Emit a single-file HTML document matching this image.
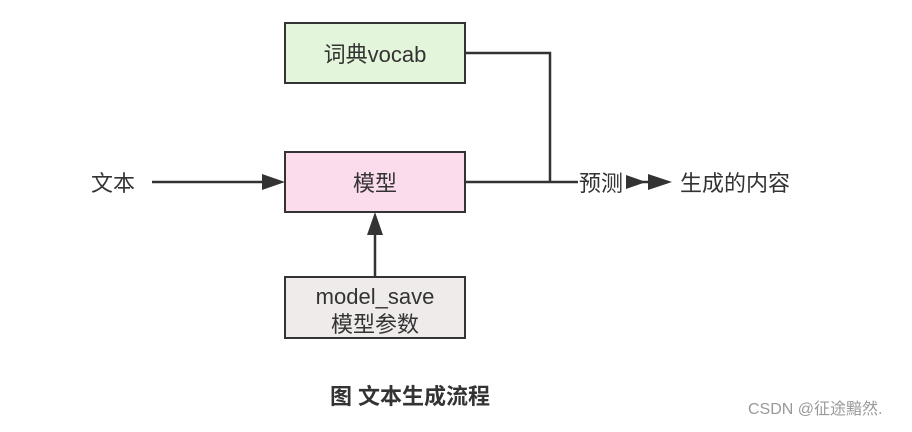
<!DOCTYPE html>
<html><head><meta charset="utf-8"><style>
body{margin:0;width:912px;height:427px;background:#fff;overflow:hidden}
svg text{font-family:"Liberation Sans","Noto Sans CJK SC",sans-serif;fill:#333}
</style></head><body>
<svg width="912" height="427" xmlns="http://www.w3.org/2000/svg">
<rect x="285" y="23" width="180" height="60" fill="#e3f5da" stroke="#333" stroke-width="2"/>
<text x="375" y="62" font-size="22" text-anchor="middle">词典vocab</text>
<rect x="285" y="152" width="180" height="60" fill="#fadcec" stroke="#333" stroke-width="2"/>
<text x="375" y="191" font-size="22" text-anchor="middle">模型</text>
<rect x="285" y="277" width="180" height="61" fill="#efebea" stroke="#333" stroke-width="2"/>
<text x="375" y="304" font-size="22" text-anchor="middle">model_save</text>
<text x="375" y="332" font-size="22" text-anchor="middle">模型参数</text>
<text x="113" y="191" font-size="22" text-anchor="middle">文本</text>
<line x1="152" y1="182" x2="266" y2="182" stroke="#333" stroke-width="2.5"/>
<polygon points="262,174 285,182 262,190" fill="#333"/>
<polyline points="466,53 550,53 550,182" fill="none" stroke="#333" stroke-width="2.5"/>
<line x1="466" y1="182" x2="578" y2="182" stroke="#333" stroke-width="2.5"/>
<text x="601" y="191" font-size="22" text-anchor="middle">预测</text>
<polygon points="626,175 646,182 626,189" fill="#333"/>
<line x1="626" y1="182" x2="652" y2="182" stroke="#333" stroke-width="2.5"/>
<polygon points="648,174 672,182 648,190" fill="#333"/>
<text x="680" y="191" font-size="22">生成的内容</text>
<line x1="375" y1="277" x2="375" y2="232" stroke="#333" stroke-width="2.5"/>
<polygon points="367,235 375,212 383,235" fill="#333"/>
<text x="410" y="404" font-size="22" font-weight="bold" text-anchor="middle">图 文本生成流程</text>
<text x="748" y="414" font-size="16" style="fill:#999">CSDN @征途黯然.</text>
</svg>
</body></html>
